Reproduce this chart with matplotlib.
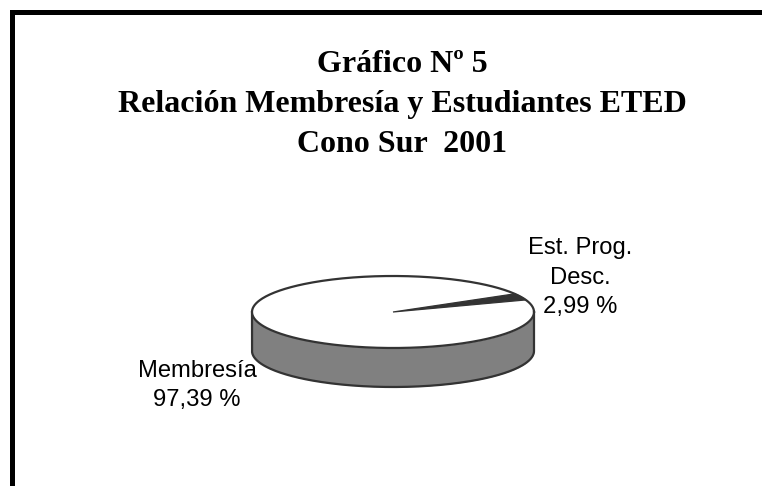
import numpy as np
import matplotlib
matplotlib.use("Agg")
import matplotlib.pyplot as plt
from matplotlib.patches import Rectangle

title_lines = ["Gráfico Nº 5", "Relación Membresía y Estudiantes ETED", "Cono Sur  2001"]
labels = ["Est. Prog.\nDesc.\n2,99 %", "Membresía\n97,39 %"]
values = [2.99, 97.39]
colors = ["#333333", "#ffffff"]
side_color = "#808080"
edge = "#333333"

W, H = 762, 486
fig = plt.figure(figsize=(W / 100, H / 100), dpi=100, facecolor="white")

# Frame (left and top only, the rest is cropped in the reference)
fig.add_artist(Rectangle((10 / W, 0), 5 / W, 1 - 10 / H, transform=fig.transFigure, color="black", lw=0))
fig.add_artist(Rectangle((10 / W, 1 - 15 / H), 1 - 10 / W, 5 / H, transform=fig.transFigure, color="black", lw=0))

# Title
for line, y in zip(title_lines, [72, 112, 152]):
    fig.text(402 / W, 1 - y / H, line, family="Liberation Serif", weight="bold", fontsize=23.0,
             ha="center", va="baseline", color="black")

# Pie axes: unit circle maps to the flattened ellipse
cx, cy, rx, ry, depth = 393, 312, 141, 36, 39
ax = fig.add_axes([(cx - rx) / W, 1 - (cy + ry) / H, 2 * rx / W, 2 * ry / H])
d = depth / ry
t = np.linspace(np.pi, 2 * np.pi, 200)
xs, ys = np.cos(t), np.sin(t)
ax.fill_between(xs, ys, ys - d, color=side_color, lw=0, clip_on=False, zorder=1)
ax.plot(np.r_[xs[0], xs, xs[-1]], np.r_[ys[0], ys - d, ys[-1]], color=edge, lw=1.6, clip_on=False, zorder=2)

wedges, _ = ax.pie(values, colors=colors, startangle=19.6, radius=1, frame=True,
                   wedgeprops=dict(lw=0, clip_on=False, zorder=3))
wedges[0].set_edgecolor(edge)
wedges[0].set_linewidth(0.9)
wedges[0].set_zorder(3.5)
ax.set_aspect("auto")
ax.set_xlim(-1, 1)
ax.set_ylim(-1, 1)
ax.axis("off")
t2 = np.linspace(0, 2 * np.pi, 400)
ax.plot(np.cos(t2), np.sin(t2), color=edge, lw=1.6, clip_on=False, zorder=4)

# Labels
for text, (x, y) in zip(labels, [(580, 313), (197, 406)]):
    fig.text(x / W, 1 - y / H, text, family="Liberation Sans", fontsize=17.1, ha="center", va="baseline",
             color="black", linespacing=1.44)

fig.savefig("out.png", dpi=100, facecolor="white")
